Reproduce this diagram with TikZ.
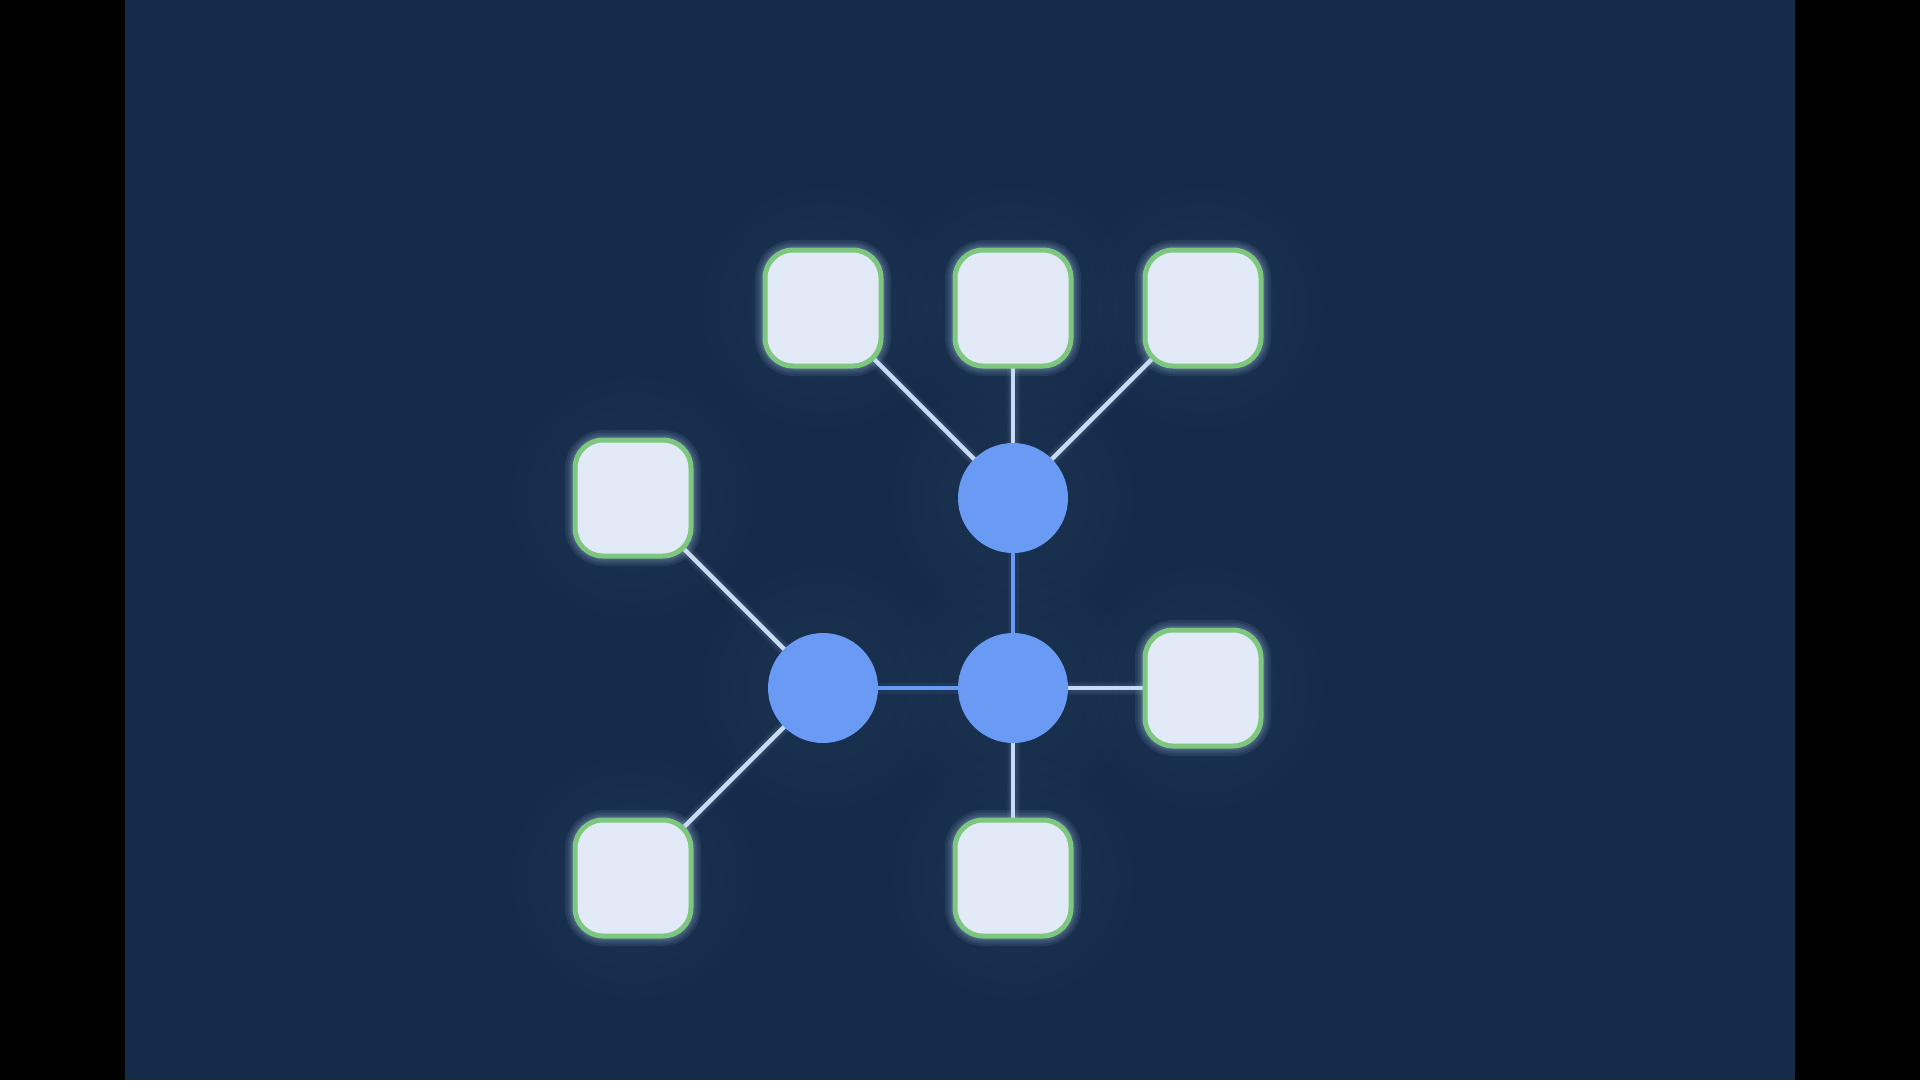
\documentclass[tikz,border=0pt]{standalone}
\usetikzlibrary{backgrounds,calc}
\pgfdeclarelayer{bgfill}
\pgfsetlayers{bgfill,background,main}
\definecolor{bgnavy}{HTML}{152B4A}
\definecolor{sqfill}{HTML}{E2E9F7}
\definecolor{sqline}{HTML}{7EC77F}
\definecolor{hubblue}{HTML}{6A9BF4}
\definecolor{leafedge}{HTML}{C6DCF6}
\definecolor{glowc}{HTML}{B4CFF2}
\tikzset{
  leafbox/.style={rectangle, rounded corners=28pt, minimum width=116pt, minimum height=116pt,
    fill=sqfill, draw=sqline, line width=5pt, inner sep=0pt},
  hub/.style={circle, minimum size=110pt, fill=hubblue, draw=none, inner sep=0pt},
  leaflink/.style={draw=leafedge, line width=4.5pt},
  hublink/.style={draw=hubblue, line width=4.5pt},
  glowA/.style={draw=glowc, line width=#1, opacity=0.09, rounded corners=28pt},
}
\begin{document}
\begin{tikzpicture}[x=1pt,y=-1pt]
\useasboundingbox (0,0) rectangle (1920,1080);

% coordinates
\coordinate (pT1) at (823,308);
\coordinate (pT2) at (1013,308);
\coordinate (pT3) at (1203,308);
\coordinate (pL) at (633,498);
\coordinate (pR) at (1203,688);
\coordinate (pB1) at (633,878);
\coordinate (pB2) at (1013,878);
\coordinate (pH1) at (1013,498);
\coordinate (pH2) at (823,688);
\coordinate (pH3) at (1013,688);

\begin{pgfonlayer}{bgfill}
\fill[black] (0,0) rectangle (1920,1080);
\fill[bgnavy] (125,0) rectangle (1795,1080);
% faint large halos
\foreach \p in {pT1,pT2,pT3,pL,pR,pB1,pB2,pH1,pH2,pH3}{
  \foreach \r in {75,90,105,120}{
    \fill[white, opacity=0.009] (\p) circle (\r);
  }
}
% square glows
\foreach \p in {pT1,pT2,pT3,pL,pR,pB1,pB2}{
  \foreach \w in {20pt,15pt,11pt,8pt}{
    \draw[glowA=\w] ($(\p)+(-58,-58)$) rectangle ($(\p)+(58,58)$);
  }
}
\end{pgfonlayer}

% nodes
\node[leafbox] (t1) at (pT1) {};
\node[leafbox] (t2) at (pT2) {};
\node[leafbox] (t3) at (pT3) {};
\node[leafbox] (l1) at (pL) {};
\node[leafbox] (r1) at (pR) {};
\node[leafbox] (b1) at (pB1) {};
\node[leafbox] (b2) at (pB2) {};
\node[hub] (h1) at (pH1) {};
\node[hub] (h2) at (pH2) {};
\node[hub] (h3) at (pH3) {};

% connectors (behind nodes)
\begin{scope}[on background layer]
  \foreach \a/\b in {h1/t1,h1/t2,h1/t3,h2/l1,h2/b1,h3/r1,h3/b2}{
    \draw[glowc, line width=13pt, opacity=0.06] (\a.center) -- (\b.center);
    \draw[glowc, line width=9pt, opacity=0.08] (\a.center) -- (\b.center);
    \path[leaflink] (\a.center) -- (\b.center);
  }
  \foreach \a/\b in {h1/h3,h2/h3}{
    \draw[hubblue, line width=11pt, opacity=0.08] (\a.center) -- (\b.center);
    \path[hublink] (\a.center) -- (\b.center);
  }
\end{scope}
\end{tikzpicture}
\end{document}
